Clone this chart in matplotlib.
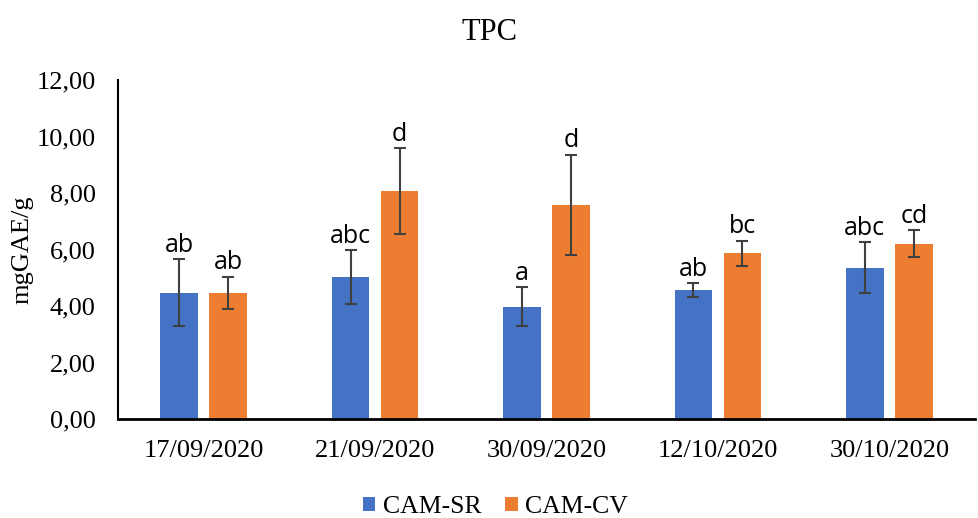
import matplotlib.pyplot as plt
import numpy as np

# data
dates = ['17/09/2020', '21/09/2020', '30/09/2020', '12/10/2020', '30/10/2020']
sr_mean = [4.47, 5.02, 3.98, 4.57, 5.36]
sr_err = [1.18, 0.96, 0.68, 0.24, 0.89]
cv_mean = [4.47, 8.07, 7.58, 5.87, 6.20]
cv_err = [0.56, 1.52, 1.77, 0.44, 0.48]
sr_letters = ['ab', 'abc', 'a', 'ab', 'abc']
cv_letters = ['ab', 'd', 'd', 'bc', 'cd']

serif = ['Liberation Serif', 'DejaVu Serif']
sans = ['Open Sans', 'DejaVu Sans']

fig = plt.figure(figsize=(9.79, 5.18), dpi=100)
ax = fig.add_axes([118 / 979, 1 - 419 / 518, 857 / 979, 339 / 518])

x = np.arange(len(dates))
w = 0.22
off = 0.143
ekw = dict(ecolor='#404040', elinewidth=1.5, capsize=4, capthick=1.5)
ax.bar(x - off, sr_mean, w, yerr=sr_err, color='#4472C4', label='CAM-SR', error_kw=ekw)
ax.bar(x + off, cv_mean, w, yerr=cv_err, color='#ED7D31', label='CAM-CV', error_kw=ekw)

# significance letters
for i in range(len(dates)):
    ax.text(x[i] - off, sr_mean[i] + sr_err[i] + 0.05, sr_letters[i], ha='center',
            va='bottom', fontsize=18, family=sans)
    ax.text(x[i] + off, cv_mean[i] + cv_err[i] + 0.05, cv_letters[i], ha='center',
            va='bottom', fontsize=18, family=sans)

ax.set_xlim(-0.5, len(dates) - 0.5)
ax.set_ylim(0, 12)
ax.set_yticks(np.arange(0, 13, 2))
ax.set_yticklabels([f'{v:.2f}'.replace('.', ',') for v in np.arange(0, 13, 2)],
                   family=serif, fontsize=19)
ax.set_xticks(x)
ax.set_xticklabels(dates, family=serif, fontsize=19)
ax.tick_params(axis='y', length=0, pad=16)
ax.tick_params(axis='x', length=0, pad=15)
ax.set_ylabel('mgGAE/g', family=serif, fontsize=19, labelpad=2)

for s in ['top', 'right']:
    ax.spines[s].set_visible(False)
ax.spines['left'].set_linewidth(1.5)
ax.spines['bottom'].set_linewidth(2)

fig.suptitle('TPC', family=serif, fontsize=22, y=0.965)
fig.legend(loc='lower center', ncol=2, frameon=False, bbox_to_anchor=(0.506, -0.045),
           prop={'family': serif, 'size': 18.5}, handlelength=0.5, handleheight=0.5,
           columnspacing=0.9, handletextpad=0.3)

fig.savefig('out.png', dpi=100)
